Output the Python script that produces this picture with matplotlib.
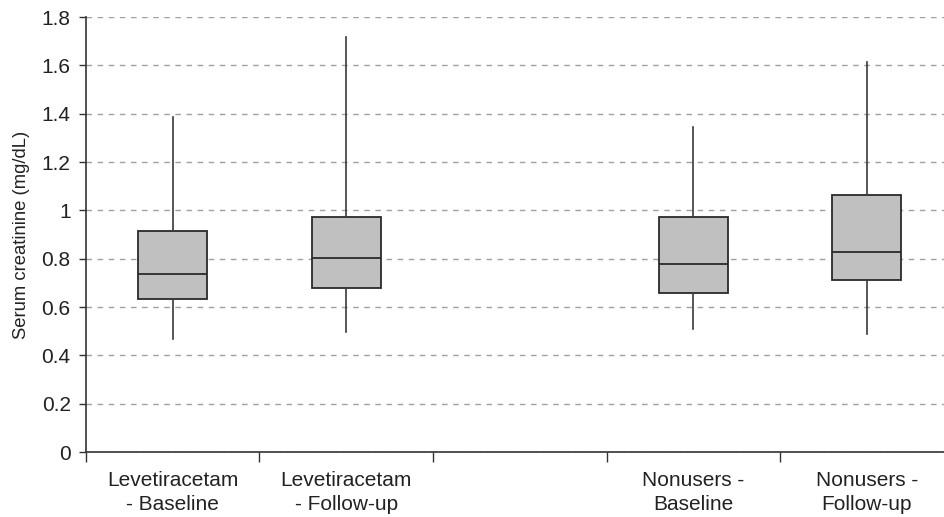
import matplotlib
matplotlib.use("Agg")
import matplotlib.pyplot as plt

plt.rcParams['font.family'] = ['Liberation Sans', 'DejaVu Sans']

categories = ["Levetiracetam\n- Baseline", "Levetiracetam\n- Follow-up", "",
              "Nonusers -\nBaseline", "Nonusers -\nFollow-up"]
positions = [1, 2, 4, 5]
whisker_low = [0.467, 0.498, 0.511, 0.489]
q1 = [0.634, 0.678, 0.656, 0.713]
medians = [0.736, 0.803, 0.780, 0.826]
q3 = [0.915, 0.972, 0.972, 1.064]
whisker_high = [1.387, 1.717, 1.345, 1.613]
yticks = [0, 0.2, 0.4, 0.6, 0.8, 1.0, 1.2, 1.4, 1.6, 1.8]
ytick_labels = ["0", "0.2", "0.4", "0.6", "0.8", "1", "1.2", "1.4", "1.6", "1.8"]

fig = plt.figure(figsize=(9.45, 5.17), dpi=100)
ax = fig.add_axes([0.091, 0.1257, 0.918, 0.8413])

stats = []
for i in range(len(positions)):
    stats.append(dict(whislo=whisker_low[i], q1=q1[i], med=medians[i],
                      q3=q3[i], whishi=whisker_high[i], fliers=[]))

ax.bxp(stats, positions=positions, widths=0.40, patch_artist=True,
       showcaps=False, showfliers=False,
       boxprops=dict(facecolor='#c0c0c1', edgecolor='#2a2a2a', linewidth=1.3),
       medianprops=dict(color='#2a2a2a', linewidth=1.3),
       whiskerprops=dict(color='#3a3a3a', linewidth=1.2),
       manage_ticks=False, zorder=3)

ax.set_xlim(0.5, 5.5)
ax.set_ylim(0, 1.8)
ax.set_yticks(yticks)
ax.set_yticklabels(ytick_labels)
ax.set_xticks(range(1, 6))
ax.set_xticklabels(categories, linespacing=1.3)
ax.set_xticks([0.5 + i for i in range(6)], minor=True)
ax.tick_params(axis='x', which='major', length=0, pad=14, labelsize=15, colors='#222222')
ax.tick_params(axis='x', which='minor', length=7, width=1.0, direction='out', color='#333333')
ax.tick_params(axis='y', length=5, width=1.0, direction='out', labelsize=15, color='#333333',
               labelcolor='#222222', pad=6)

ax.yaxis.grid(True, linestyle=(0, (4, 4)), color='#a0a0a0', linewidth=1.0, zorder=0)
ax.set_axisbelow(True)

for s in ['top', 'right']:
    ax.spines[s].set_visible(False)
for s in ['left', 'bottom']:
    ax.spines[s].set_color('#333333')
    ax.spines[s].set_linewidth(1.2)

ax.set_ylabel("Serum creatinine (mg/dL)", fontsize=13.3, color='#222222', labelpad=8)

fig.savefig("out.png", dpi=100)
